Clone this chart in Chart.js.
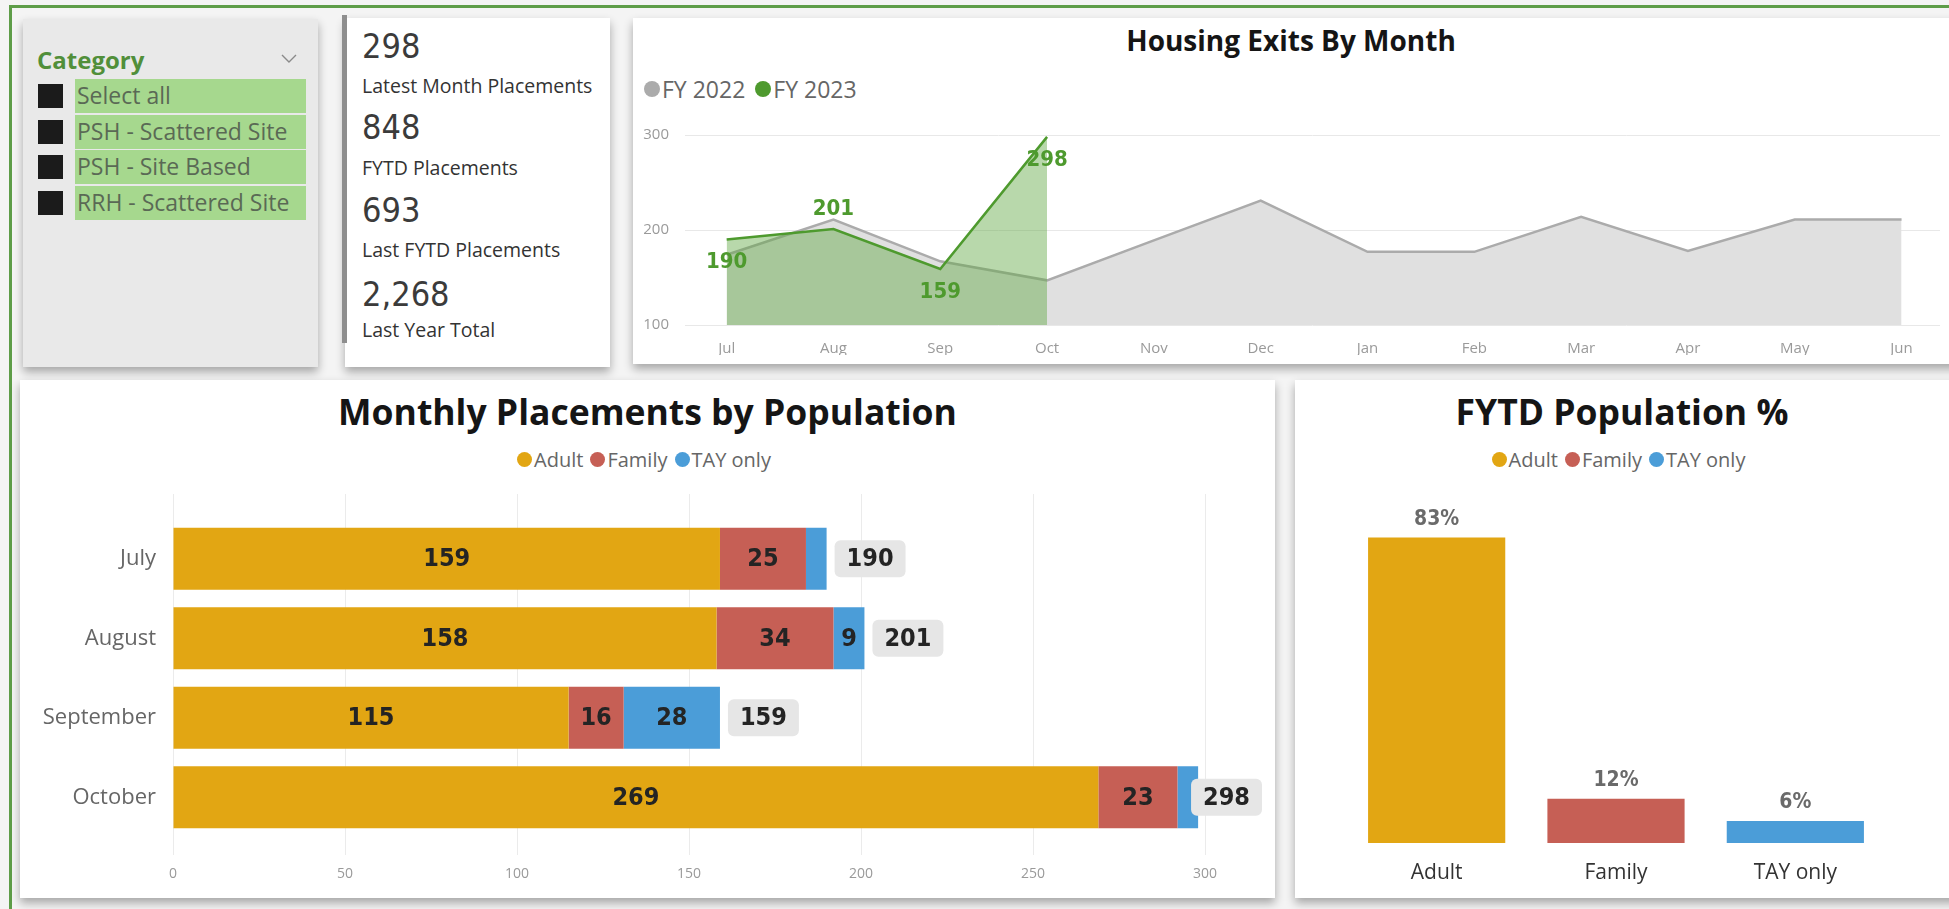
<!DOCTYPE html>
<html lang="en">
<head>
<meta charset="utf-8">
<title>Housing Placements</title>
<script src="https://cdn.jsdelivr.net/npm/chart.js@4.4.1/dist/chart.umd.min.js"></script>
<style>
  html, body { margin: 0; padding: 0; }
  body {
    width: 1949px; height: 909px; overflow: hidden; position: relative;
    background: #f4f4f4; font-family: "Open Sans", "Noto Sans", sans-serif; color: #333;
  }
  .frame {
    position: absolute; left: 9px; top: 5px; right: -20px; bottom: -20px;
    border-left: 3px solid #5e9d48; border-top: 3px solid #5e9d48;
  }
  .panel { position: absolute; background: #fff; box-shadow: 0 5px 9px rgba(0, 0, 0, 0.32); }
  .title {
    position: absolute; text-align: center; font-weight: 700; color: #151515;
    white-space: nowrap; height: 44px; line-height: 44px;
  }
  .legend {
    position: absolute; display: flex; align-items: center; white-space: nowrap;
    color: #666; height: 30px;
  }
  .legend .entry { display: flex; align-items: center; margin-right: 7px; }
  .legend .dot { display: inline-block; border-radius: 50%; margin-right: 2px; }
  canvas { position: absolute; }

  /* slicer */
  .slicer { background: #e9e9e9; }
  .slicer-head {
    position: absolute; left: 14px; top: 24px; height: 34px; line-height: 34px;
    font-size: 24px; font-weight: 700; color: #518f3a;
  }
  .slicer svg { position: absolute; left: 258px; top: 35px; }
  .row { position: absolute; left: 0; width: 290px; height: 34px; }
  .row .box { position: absolute; left: 15px; top: 5px; width: 25px; height: 24px; background: #1b1b1b; }
  .row .lbl {
    position: absolute; left: 52px; width: 231px; height: 34px; line-height: 33px;
    background: #a6d88e; color: #5a6955; font-size: 23px; padding-left: 2px; box-sizing: border-box;
    white-space: nowrap;
  }

  /* kpi card */
  .kpi-bar { position: absolute; left: 342px; top: 15px; width: 5px; height: 328px; background: #8e8e8e; }
  .kpi-val {
    position: absolute; left: 362px; height: 40px; line-height: 40px;
    font-family: "DejaVu Sans Condensed", "Open Sans", sans-serif; font-size: 34px; color: #3b3b3b;
  }
  .kpi-lbl {
    position: absolute; left: 362px; height: 26px; line-height: 26px;
    font-size: 19.5px; color: #333; white-space: nowrap;
  }
</style>
</head>
<body>
<div class="frame"></div>

<div class="panel slicer" id="slicer" style="left:23px;top:19px;width:295px;height:348px;">
  <div class="slicer-head">Category</div>
  <svg width="16" height="10"><polyline points="1,1 8,8 15,1" fill="none" stroke="#8a8a8a" stroke-width="1.4"/></svg>
</div>

<div class="panel" style="left:345px;top:18px;width:265px;height:349px;"></div>
<div class="kpi-bar"></div>
<div id="kpis"></div>

<div class="panel" style="left:633px;top:18px;width:1330px;height:346px;"></div>
<div class="title" style="left:633px;width:1316px;top:18px;font-size:28px;">Housing Exits By Month</div>
<div class="legend" id="lineLegend" style="left:644px;top:74px;font-size:23px;"></div>
<canvas id="exitsChart" width="1316" height="245" style="left:633px;top:110px;"></canvas>

<div class="panel" style="left:20px;top:380px;width:1255px;height:518px;"></div>
<div class="title" style="left:20px;width:1255px;top:389px;font-size:35.5px;">Monthly Placements by Population</div>
<div class="legend" id="barLegend" style="left:20px;width:1255px;justify-content:center;top:444px;font-size:20px;"></div>
<canvas id="monthlyChart" width="1255" height="409" style="left:20px;top:478px;"></canvas>

<div class="panel" style="left:1295px;top:380px;width:670px;height:518px;"></div>
<div class="title" style="left:1295px;width:654px;top:389px;font-size:35.5px;">FYTD Population %</div>
<div class="legend" id="shareLegend" style="left:1295px;width:654px;justify-content:center;top:444px;font-size:20px;"></div>
<canvas id="shareChart" width="654" height="426" style="left:1295px;top:470px;"></canvas>

<script>
// slicer entries
const sliceCategories = ['Select all', 'PSH - Scattered Site', 'PSH - Site Based', 'RRH - Scattered Site'];

// headline numbers
const kpiValues = ['298', '848', '693', '2,268'];
const kpiLabels = ['Latest Month Placements', 'FYTD Placements', 'Last FYTD Placements', 'Last Year Total'];

// housing exits per fiscal month
const fiscalMonths = ['Jul', 'Aug', 'Sep', 'Oct', 'Nov', 'Dec', 'Jan', 'Feb', 'Mar', 'Apr', 'May', 'Jun'];
const fy2022 = [174, 211, 167, 147, 189, 231, 177, 177, 214, 178, 211, 211];
const fy2023 = [190, 201, 159, 298];
const fy2023LabelSide = ['below', 'above', 'below', 'below'];

// placements by population, current fiscal year
const placementMonths = ['July', 'August', 'September', 'October'];
const adult = [159, 158, 115, 269];
const family = [25, 34, 16, 23];
const tayOnly = [6, 9, 28, 6];

const populations = ['Adult', 'Family', 'TAY only'];
const fytdShare = [83, 12, 6];

const popColors = ['#E2A613', '#C65F55', '#4B9DD8'];
const fyColors = ['#ababab', '#4e9a2e'];
const condensed = '"DejaVu Sans Condensed", "Liberation Sans Narrow", sans-serif';

Chart.defaults.font.family = '"Open Sans", "Noto Sans", sans-serif';
Chart.defaults.animation = false;

// ---- slicer rows ----
let slicer = document.getElementById('slicer');
sliceCategories.forEach(function (name, i) {
    let row = document.createElement('div');
    row.className = 'row';
    row.style.top = (60 + i * 35.5) + 'px';
    let box = document.createElement('span');
    box.className = 'box';
    let lbl = document.createElement('span');
    lbl.className = 'lbl';
    lbl.textContent = name;
    row.append(box);
    row.append(lbl);
    slicer.append(row);
});

// ---- kpi card ----
let kpiNode = document.getElementById('kpis');
const kpiValTop = [26, 107, 190, 274];
const kpiLblTop = [73, 155, 237, 317];
for (let i = 0; i < kpiValues.length; i++) {
    let v = document.createElement('div');
    v.className = 'kpi-val';
    v.style.top = kpiValTop[i] + 'px';
    v.textContent = kpiValues[i];
    let l = document.createElement('div');
    l.className = 'kpi-lbl';
    l.style.top = kpiLblTop[i] + 'px';
    l.textContent = kpiLabels[i];
    kpiNode.append(v);
    kpiNode.append(l);
}

// ---- legends ----
function buildLegend(el, names, colors, dotSize, gap) {
    for (let i = 0; i < names.length; i++) {
        let entry = document.createElement('span');
        entry.className = 'entry';
        entry.style.marginRight = gap + 'px';
        let dot = document.createElement('span');
        dot.className = 'dot';
        dot.style.width = dotSize + 'px';
        dot.style.height = dotSize + 'px';
        dot.style.background = colors[i];
        entry.append(dot);
        entry.append(document.createTextNode(names[i]));
        el.append(entry);
    }
}
buildLegend(document.getElementById('lineLegend'), ['FY 2022', 'FY 2023'], fyColors, 16, 10);
buildLegend(document.getElementById('barLegend'), populations, popColors, 15, 7);
buildLegend(document.getElementById('shareLegend'), populations, popColors, 15, 7);

// ---- housing exits line/area chart ----
const exitLabels = {
    id: 'exitLabels',
    afterDatasetsDraw(chart) {
        const ctx = chart.ctx;
        const meta = chart.getDatasetMeta(1);
        ctx.save();
        ctx.font = 'bold 22px ' + condensed;
        ctx.fillStyle = fyColors[1];
        ctx.textAlign = 'center';
        ctx.textBaseline = 'middle';
        meta.data.forEach(function (pt, i) {
            const dy = fy2023LabelSide[i] === 'above' ? -20 : 23;
            ctx.fillText(fy2023[i], pt.x, pt.y + dy);
        });
        ctx.restore();
    }
};

new Chart(document.getElementById('exitsChart'), {
    type: 'line',
    data: {
        datasets: [{
            label: 'FY 2022',
            data: fy2022.map((v, i) => ({ x: i, y: v })),
            borderColor: fyColors[0],
            backgroundColor: '#e0e0e0',
            borderWidth: 2.5,
            fill: 'start',
            pointRadius: 0,
            order: 1
        }, {
            label: 'FY 2023',
            data: fy2023.map((v, i) => ({ x: i, y: v })),
            borderColor: fyColors[1],
            backgroundColor: 'rgba(98, 168, 68, 0.45)',
            borderWidth: 2.5,
            fill: 'start',
            pointRadius: 0,
            order: 0
        }]
    },
    options: {
        responsive: false,
        layout: { padding: { top: 18, right: 9 } },
        plugins: { legend: { display: false }, tooltip: { enabled: false } },
        scales: {
            x: {
                type: 'linear',
                min: -0.39,
                max: 11.36,
                grid: { display: false },
                border: { display: false },
                afterBuildTicks: function (scale) {
                    scale.ticks = fiscalMonths.map((m, i) => ({ value: i }));
                },
                ticks: {
                    callback: v => fiscalMonths[v],
                    color: '#9a9a9a',
                    font: { size: 15 },
                    padding: 7,
                    maxRotation: 0
                },
                afterFit: function (scale) { scale.height = 30; }
            },
            y: {
                min: 100,
                max: 300,
                grid: { color: '#e8e8e8', drawTicks: false },
                border: { display: false },
                ticks: { stepSize: 100, color: '#9a9a9a', font: { size: 15 }, padding: 16 },
                afterFit: function (scale) { scale.width = 52; }
            }
        }
    },
    plugins: [exitLabels]
});

// ---- monthly placements stacked bars ----
let totals = placementMonths.map((m, i) => adult[i] + family[i] + tayOnly[i]);

const stackLabels = {
    id: 'stackLabels',
    afterDatasetsDraw(chart) {
        const ctx = chart.ctx;
        ctx.save();
        ctx.font = 'bold 25px ' + condensed;
        ctx.textAlign = 'center';
        ctx.textBaseline = 'middle';
        ctx.fillStyle = '#242424';
        chart.data.datasets.forEach(function (ds, di) {
            chart.getDatasetMeta(di).data.forEach(function (bar, i) {
                if (Math.abs(bar.x - bar.base) < 25) return;
                ctx.fillText(ds.data[i], (bar.x + bar.base) / 2, bar.y + 1);
            });
        });
        const last = chart.getDatasetMeta(chart.data.datasets.length - 1);
        totals.forEach(function (t, i) {
            const bar = last.data[i];
            const bw = ctx.measureText(t).width + 24;
            const bh = 37;
            const bx = Math.min(bar.x + 8, chart.width - 13 - bw);
            ctx.fillStyle = '#e6e6e6';
            ctx.beginPath();
            ctx.roundRect(bx, bar.y - bh / 2, bw, bh, 6);
            ctx.fill();
            ctx.fillStyle = '#242424';
            ctx.fillText(t, bx + bw / 2, bar.y + 1);
        });
        ctx.restore();
    }
};

const barSeries = [adult, family, tayOnly];
new Chart(document.getElementById('monthlyChart'), {
    type: 'bar',
    data: {
        labels: placementMonths,
        datasets: populations.map((p, k) => ({
            label: p,
            data: barSeries[k],
            backgroundColor: popColors[k],
            barPercentage: 0.78,
            categoryPercentage: 1
        }))
    },
    options: {
        indexAxis: 'y',
        responsive: false,
        layout: { padding: { top: 16, right: 70 } },
        plugins: { legend: { display: false }, tooltip: { enabled: false } },
        scales: {
            x: {
                stacked: true,
                min: 0,
                max: 300,
                grid: { color: '#ebebeb', tickColor: '#ebebeb', tickLength: 18 },
                border: { display: false },
                ticks: { stepSize: 50, color: '#9a9a9a', font: { size: 14 }, padding: 11 },
                afterFit: function (scale) { scale.height = 50; }
            },
            xTop: {
                axis: 'x',
                position: 'top',
                min: 0,
                max: 300,
                grid: { drawOnChartArea: false, color: '#ebebeb', tickLength: 25 },
                border: { display: false },
                ticks: { stepSize: 50, display: false },
                afterFit: function (scale) { scale.height = 25; }
            },
            y: {
                stacked: true,
                grid: { display: false, drawTicks: false },
                border: { display: false },
                ticks: { color: '#666', font: { size: 22 }, padding: 17 },
                afterFit: function (scale) { scale.width = 153; }
            }
        }
    },
    plugins: [stackLabels]
});

// ---- FYTD population share ----
const shareLabels = {
    id: 'shareLabels',
    afterDatasetsDraw(chart) {
        const ctx = chart.ctx;
        ctx.save();
        ctx.font = 'bold 21px ' + condensed;
        ctx.fillStyle = '#6a6a6a';
        ctx.textAlign = 'center';
        ctx.textBaseline = 'middle';
        chart.getDatasetMeta(0).data.forEach(function (bar, i) {
            ctx.fillText(fytdShare[i] + '%', bar.x, bar.y - 18);
        });
        ctx.restore();
    }
};

new Chart(document.getElementById('shareChart'), {
    type: 'bar',
    data: {
        labels: populations,
        datasets: [{
            data: fytdShare,
            backgroundColor: popColors,
            barPercentage: 0.765,
            categoryPercentage: 1
        }]
    },
    options: {
        responsive: false,
        layout: { padding: { left: 52, right: 64, top: 5 } },
        plugins: { legend: { display: false }, tooltip: { enabled: false } },
        scales: {
            x: {
                grid: { display: false },
                border: { display: false },
                ticks: { color: '#333', font: { size: 21 }, padding: 9 },
                afterFit: function (scale) { scale.height = 53; }
            },
            y: { display: false, min: 0, max: 100 }
        }
    },
    plugins: [shareLabels]
});
</script>
</body>
</html>
